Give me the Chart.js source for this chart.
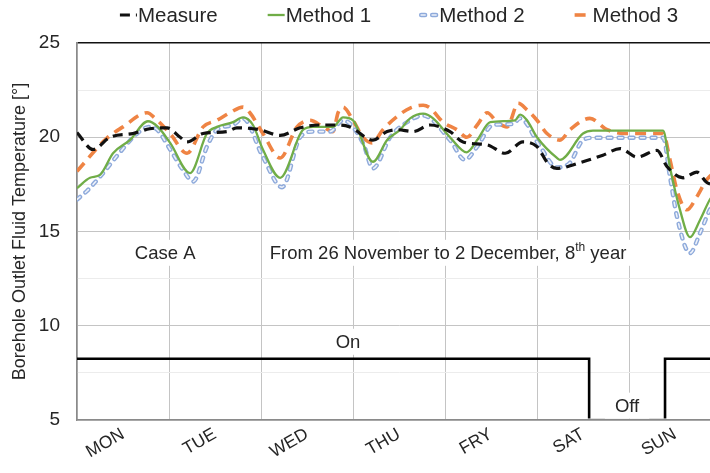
<!DOCTYPE html>
<html><head><meta charset="utf-8">
<script src="https://cdn.jsdelivr.net/npm/chart.js@4"></script>
<style>
html,body{margin:0;padding:0;overflow:hidden;background:#fff;width:710px;height:473px}
#wrap{width:740px;height:473px;position:relative}
</style></head><body>
<div id="wrap"><canvas id="c"></canvas></div>
<script>
const dayLabels = ['MON','TUE','WED','THU','FRY','SAT','SUN'];
const yTickValues = [5,7.5,10,12.5,15,17.5,20,22.5,25];

const measureHours = [0,4.2,8.6,14.6,19.0,23.5,26.9,28.7,32.9,39.1,41.7,47.7,53.0,58.2,63.4,68.6,71.2,77.2,80.9,83.5,87.7,92.1,97.3,100.7,107.0,111.7,116.3,120.0,122.9,125.2,132.0,137.2,141.7,146.1,151.3,153.9,158.1,161.7,164.3,168];
const measureTemp = [20.25,19.35,20.0,20.2,20.45,20.5,20.0,19.75,20.2,20.3,20.5,20.4,20.1,20.5,20.65,20.65,20.55,19.85,20.3,20.4,20.3,20.65,20.3,19.75,19.6,19.15,19.75,19.5,18.6,18.35,18.7,19.05,19.4,18.95,19.3,18.45,17.85,18.15,17.6,17.4];

const method1Hours = [0,3.4,6.0,9.4,13.8,18.5,21.1,24.3,29.5,33.9,36.5,40.7,43.3,45.9,48.5,53.0,59.0,61.6,66.8,69.4,72.0,77.2,80.9,84.3,86.9,90.3,92.9,97.3,101.7,104.4,107.8,114.3,115.6,117.4,120.0,125.2,126.0,132.0,134.6,152.9,154.7,157.3,159.9,162.5,165.1,168];
const method1Temp = [17.3,17.85,18.0,19.15,19.85,20.85,20.55,19.7,18.1,20.2,20.55,20.8,21.05,20.65,19.35,17.85,20.4,20.55,20.55,21.05,20.9,18.7,19.85,20.4,21.0,21.25,21.0,20.0,19.2,19.85,20.8,20.9,21.2,20.9,20.0,18.9,18.8,20.2,20.35,20.35,18.4,16.15,14.7,15.6,16.7,17.5];

const method2Hours = [0,2.6,6.8,11.2,15.7,19.0,20.9,24.3,27.7,30.3,33.9,36.5,40.7,43.3,48.5,53.5,58.2,61.6,66.0,69.4,74.6,77.2,81.7,86.9,90.3,97.3,101.2,104.4,108.5,113.7,115.6,120.8,125.2,128.6,132.0,134.6,152.9,154.7,156.5,159.9,162.5,165.1,168];
const method2Temp = [16.7,17.15,18.1,19.2,20.2,20.55,20.4,19.35,18.25,17.65,19.5,20.4,20.65,21.0,18.95,17.35,20.0,20.3,20.3,20.9,19.7,18.35,20.0,20.9,21.15,19.85,18.8,19.5,20.65,20.7,21.0,19.5,18.4,18.65,19.85,19.97,19.97,17.9,15.8,13.85,14.9,16.15,17.0];

const method3Hours = [0,7.8,12.0,18.3,20.4,24.3,28.7,32.9,36.5,39.9,43.3,45.1,48.5,53.0,57.4,60.8,64.2,66.8,68.1,69.4,72.0,74.6,77.0,79.8,83.5,86.9,90.3,92.1,95.5,99.1,101.7,104.4,107.0,109.6,112.2,115.1,117.4,120.0,122.6,126.0,128.6,133.8,138.3,143.5,152.9,154.7,156.5,159.1,161.7,164.3,168];
const method3Temp = [18.2,19.95,20.55,21.3,21.0,20.2,19.15,20.55,20.9,21.3,21.6,21.3,20.2,18.9,20.55,20.9,20.55,20.3,21.3,21.6,20.9,20.0,19.7,20.4,21.1,21.55,21.7,21.55,20.8,20.4,20.0,20.65,21.3,20.8,20.55,21.8,21.45,20.9,20.2,19.85,20.4,21.0,20.4,20.2,20.2,18.8,17.2,16.15,16.85,17.75,18.4];

const statusHours = [0,133.6,133.6,153.4,153.4,168];
const statusTemp = [8.25,8.25,5,5,8.25,8.25];

const notes = [
  {parts:[{t:'Case A'}], hour:23, temp:13.87, align:'center', padL:12, padR:12},
  {parts:[{t:'From 26 November to 2 December, 8'},{t:'th',sup:true},{t:' year'}], hour:50.3, temp:13.87, align:'left', padL:6, padR:34},
  {parts:[{t:'On'}], hour:70.7, temp:9.15, align:'center', padL:70, padR:78},
  {parts:[{t:'Off'}], hour:143.5, temp:5.76, align:'center', padL:10, padR:10}
];

const TXT = '#262626';
const FONT = "'Liberation Sans', Arial, sans-serif";
const pts = (xs, ys) => xs.map((x, i) => ({x: x, y: ys[i]}));

const legendItems = [
  {label:'Measure', ds:[0]},
  {label:'Method 1', ds:[1]},
  {label:'Method 2', ds:[3,2]},
  {label:'Method 3', ds:[4]}
];

const notesPlugin = {
  id:'notes',
  afterDatasetsDraw(chart){
    const {ctx, scales:{x, y}} = chart;
    ctx.save();
    const size = 18.5, supSize = 12;
    notes.forEach(n => {
      const px = x.getPixelForValue(n.hour), py = y.getPixelForValue(n.temp);
      let w = 0;
      n.parts.forEach(p => { ctx.font = (p.sup ? supSize : size) + 'px ' + FONT; w += ctx.measureText(p.t).width; });
      const left = n.align === 'center' ? px - w/2 : px;
      ctx.fillStyle = '#fff';
      ctx.fillRect(left - n.padL, py - 13, w + n.padL + n.padR, 26);
      let cx = left;
      ctx.fillStyle = TXT;
      ctx.textBaseline = 'middle';
      ctx.textAlign = 'left';
      n.parts.forEach(p => {
        ctx.font = (p.sup ? supSize : size) + 'px ' + FONT;
        ctx.fillText(p.t, cx, p.sup ? py - 5 : py + 1);
        cx += ctx.measureText(p.t).width;
      });
    });
    ctx.restore();
  }
};

const legendPlugin = {
  id:'legendLine',
  afterDraw(chart){
    const {ctx, chartArea} = chart;
    const size = 20.5, sample = 17, gap = 1, spacing = 50;
    ctx.save();
    ctx.font = size + 'px ' + FONT;
    const widths = legendItems.map(it => sample + gap + ctx.measureText(it.label).width);
    const total = widths.reduce((a, b) => a + b, 0) + spacing * (legendItems.length - 1);
    let xx = (chartArea.left + chartArea.right) / 2 - total / 2;
    const yy = 15;
    legendItems.forEach((it, i) => {
      it.ds.forEach(di => {
        const d = chart.data.datasets[di];
        ctx.strokeStyle = d.borderColor;
        ctx.lineWidth = d.borderWidth;
        ctx.setLineDash(d.borderDash || []);
        ctx.lineCap = d.borderCapStyle || 'butt';
        ctx.beginPath();
        ctx.moveTo(xx, yy);
        ctx.lineTo(xx + sample, yy);
        ctx.stroke();
      });
      ctx.setLineDash([]);
      ctx.fillStyle = TXT;
      ctx.textBaseline = 'middle';
      ctx.textAlign = 'left';
      ctx.fillText(it.label, xx + sample + gap, yy + 1);
      xx += widths[i] + spacing;
    });
    ctx.restore();
  }
};

const lineBase = {pointRadius:0, fill:false, cubicInterpolationMode:'monotone', borderJoinStyle:'round'};

new Chart(document.getElementById('c'), {
  type:'line',
  data:{
    datasets:[
      Object.assign({label:'Measure', data:pts(measureHours, measureTemp), borderColor:'#111111', borderWidth:3.2, borderDash:[10,6]}, lineBase),
      Object.assign({label:'Method 1', data:pts(method1Hours, method1Temp), borderColor:'#70ad47', borderWidth:2.3}, lineBase),
      Object.assign({label:'Method 2 inner', data:pts(method2Hours, method2Temp), borderColor:'#eef2fa', borderWidth:1.6, borderDash:[4,7], borderCapStyle:'round'}, lineBase),
      Object.assign({label:'Method 2', data:pts(method2Hours, method2Temp), borderColor:'#8eaadb', borderWidth:4.4, borderDash:[4,7], borderCapStyle:'round'}, lineBase),
      Object.assign({label:'Method 3', data:pts(method3Hours, method3Temp), borderColor:'#ef8444', borderWidth:3.6, borderDash:[11,7]}, lineBase),
      {label:'Status', data:pts(statusHours, statusTemp), borderColor:'#000000', borderWidth:2.6, borderJoinStyle:'miter', pointRadius:0, tension:0, fill:false, clip:{left:0, top:0, right:0, bottom:-1.4}}
    ]
  },
  options:{
    responsive:true, maintainAspectRatio:false, animation:false,
    layout:{padding:{top:43, right:19, left:0, bottom:0}},
    plugins:{legend:{display:false}, tooltip:{enabled:false}},
    scales:{
      x:{
        type:'linear', min:0, max:168,
        afterBuildTicks: s => { s.ticks = []; for (let h = 0; h <= 168; h += 12) s.ticks.push({value:h}); },
        ticks:{autoSkip:false, minRotation:30, maxRotation:30, padding:4, color:TXT, font:{size:17.5, family:FONT},
          callback: v => (v % 24 === 12) ? dayLabels[(v - 12) / 24] : ''},
        grid:{drawTicks:false, lineWidth:1, color: c => (c.tick && c.tick.value % 24 === 0) ? '#c4c4c4' : 'rgba(0,0,0,0)'},
        border:{color:'#8a8a8a', width:1.5},
        afterFit: s => { s.height = 53; }
      },
      y:{
        min:5, max:25,
        afterBuildTicks: s => { s.ticks = yTickValues.map(v => ({value:v})); },
        ticks:{padding:17, color:TXT, font:{size:19, family:FONT}, callback: v => (v % 5 === 0) ? String(v) : ''},
        grid:{drawTicks:false, lineWidth: c => (c.tick && c.tick.value === 25) ? 1.6 : 1,
          color: c => { const v = c.tick ? c.tick.value : 0; return v === 25 ? '#111111' : (v % 5 === 0 ? '#c4c4c4' : '#ececec'); }},
        border:{color:'#8a8a8a', width:1.5},
        title:{display:true, text:'Borehole Outlet Fluid Temperature [°]', color:TXT, font:{size:18, family:FONT}, padding:{top:9, bottom:0}},
        afterFit: s => { s.width = 77; }
      }
    }
  },
  plugins:[notesPlugin, legendPlugin]
});
</script>
</body></html>
